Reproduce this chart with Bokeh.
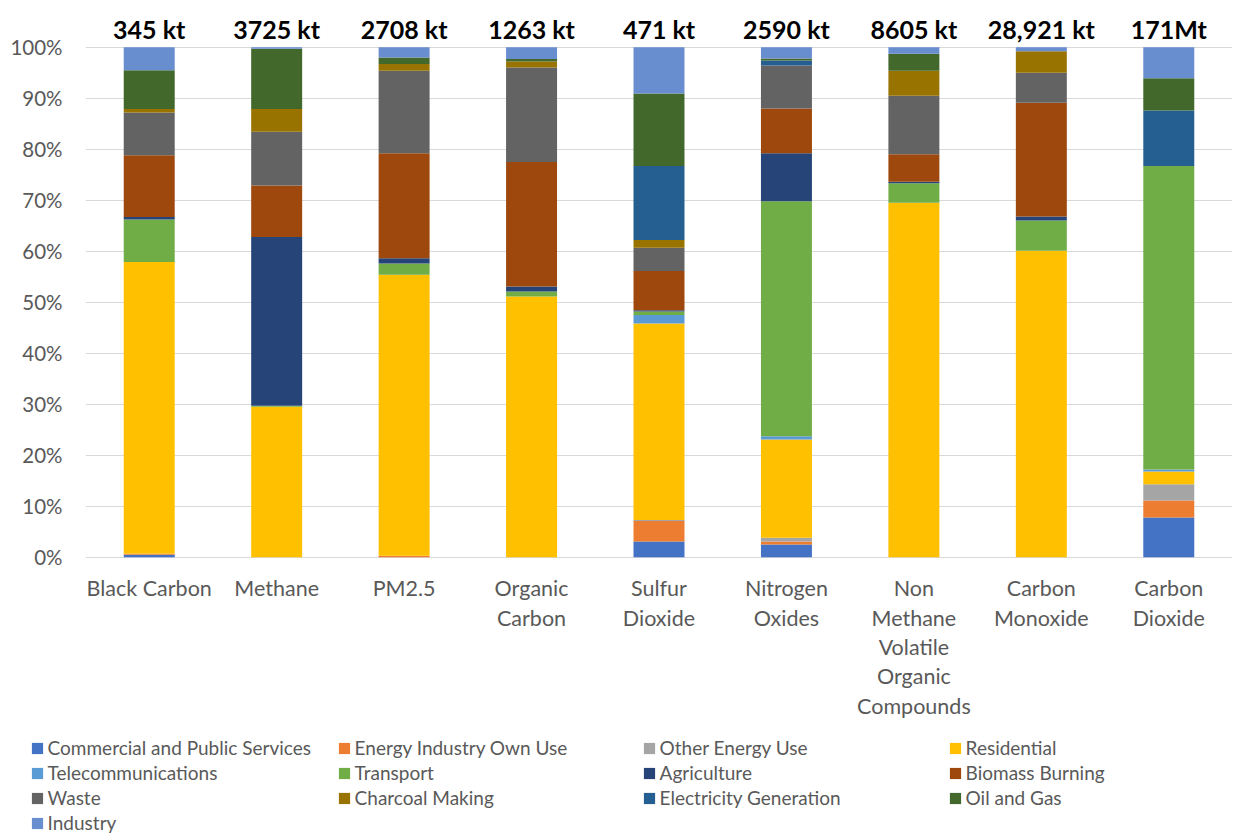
from bokeh.plotting import figure
from bokeh.layouts import column
from bokeh.models import (ColumnDataSource, FactorRange, Range1d, FixedTicker,
                          PrintfTickFormatter, Legend, LegendItem)
from bokeh.core.properties import value
from bokeh.embed import file_html
from bokeh.resources import INLINE

categories = ["Black Carbon", "Methane", "PM2.5", "Organic Carbon", "Sulfur Dioxide",
              "Nitrogen Oxides", "Non Methane Volatile Organic Compounds",
              "Carbon Monoxide", "Carbon Dioxide"]
category_labels = ["Black Carbon", "Methane", "PM2.5", "Organic\nCarbon", "Sulfur\nDioxide",
                   "Nitrogen\nOxides", "Non\nMethane\nVolatile\nOrganic\nCompounds",
                   "Carbon\nMonoxide", "Carbon\nDioxide"]
totals = ["345 kt", "3725 kt", "2708 kt", "1263 kt", "471 kt", "2590 kt", "8605 kt",
          "28,921 kt", "171Mt"]

sectors = ["Commercial and Public Services", "Energy Industry Own Use", "Other Energy Use",
           "Residential", "Telecommunications", "Transport", "Agriculture",
           "Biomass Burning", "Waste", "Charcoal Making", "Electricity Generation",
           "Oil and Gas", "Industry"]

# share of each pollutant (%) by sector, in category order
commercial     = [0.5, 0.0, 0.0, 0.0, 3.1, 2.5, 0.0, 0.0, 7.8]
energy_own_use = [0.2, 0.0, 0.3, 0.0, 4.0, 0.6, 0.0, 0.0, 3.3]
other_energy   = [0.0, 0.0, 0.0, 0.0, 0.2, 0.7, 0.0, 0.0, 3.2]
residential    = [57.2, 29.5, 55.1, 51.1, 38.5, 19.3, 69.5, 60.1, 2.5]
telecom        = [0.0, 0.0, 0.0, 0.0, 1.7, 0.6, 0.0, 0.0, 0.4]
transport      = [8.3, 0.2, 2.2, 1.0, 0.7, 46.1, 3.8, 5.9, 59.5]
agriculture    = [0.5, 33.1, 1.0, 1.0, 0.2, 9.4, 0.3, 0.8, 0.0]
biomass        = [12.1, 10.1, 20.6, 24.4, 7.7, 8.8, 5.4, 22.3, 0.0]
waste          = [8.4, 10.5, 16.2, 18.5, 4.6, 8.4, 11.5, 5.9, 0.0]
charcoal       = [0.7, 4.5, 1.3, 1.2, 1.5, 0.0, 4.9, 4.2, 0.0]
electricity    = [0.0, 0.0, 0.0, 0.0, 14.5, 1.0, 0.0, 0.0, 10.9]
oil_gas        = [7.6, 11.8, 1.3, 0.5, 14.2, 0.4, 3.3, 0.0, 6.3]
industry       = [4.5, 0.3, 2.0, 2.3, 9.1, 2.2, 1.3, 0.8, 6.1]

series = [commercial, energy_own_use, other_energy, residential, telecom, transport,
          agriculture, biomass, waste, charcoal, electricity, oil_gas, industry]
colors = ["#4472C4", "#ED7D31", "#A5A5A5", "#FFC000", "#5B9BD5", "#70AD47", "#264478",
          "#9E480E", "#636363", "#997300", "#255E91", "#43682B", "#698ED0"]

y_ticks = list(range(0, 101, 10))

data = {"cat": categories}
for name, vals in zip(sectors, series):
    data[name] = vals
source = ColumnDataSource(data)

FONT = "Lato"
GREY = "#595959"
W = 1239
H_CHART = 728
H_LEG = 105

p = figure(x_range=FactorRange(*categories), y_range=Range1d(-33.588, 109.157),
           width=W, height=H_CHART, output_backend="svg", toolbar_location=None,
           x_axis_location=None, title=None,
           min_border_left=85, min_border_right=7, min_border_top=0, min_border_bottom=0)
p.outline_line_color = None
p.background_fill_color = "white"
p.border_fill_color = "white"

renderers = p.vbar_stack(sectors, x="cat", width=0.4, color=colors, line_color=None,
                         source=source)

p.xgrid.visible = False
p.ygrid.ticker = FixedTicker(ticks=y_ticks)
p.ygrid.grid_line_color = "#D9D9D9"
p.ygrid.grid_line_width = 1.2

yax = p.yaxis[0]
yax.ticker = FixedTicker(ticks=y_ticks)
yax.formatter = PrintfTickFormatter(format="%d%%")
yax.axis_line_color = None
yax.major_tick_line_color = None
yax.minor_tick_line_color = None
yax.major_tick_out = 0
yax.major_label_standoff = 23
yax.major_label_text_font = FONT
yax.major_label_text_font_size = "20.5px"
yax.major_label_text_color = GREY

# totals above the bars
p.text(x=categories, y=[100] * len(categories), text=totals, y_offset=-18,
       text_align="center", text_baseline="middle", text_font=value(FONT),
       text_font_style="bold", text_font_size="25px", text_color="black")

# category labels below the bars
p.text(x=categories, y=[0] * len(categories), text=category_labels, y_offset=18,
       text_align="center", text_baseline="top", text_font=value(FONT),
       text_font_size="21.5px", text_color=GREY, text_line_height=1.13)

# legend strip: its own figure so that the first column can sit at the far left.
# It carries the same stacks, scrolled out of view, so the legend swatches render.
q = figure(x_range=FactorRange(*categories), y_range=Range1d(1000, 1001),
           width=W, height=H_LEG,
           output_backend="svg", toolbar_location=None, title=None,
           x_axis_location=None, y_axis_location=None,
           min_border_left=0, min_border_right=0, min_border_top=0, min_border_bottom=0)
q.outline_line_color = None
q.xgrid.visible = False
q.ygrid.visible = False
q.background_fill_color = "white"
q.border_fill_color = "white"

swatches = q.vbar_stack(sectors, x="cat", width=0.4, color=colors, line_color=None,
                        source=source)

for fig in (p, q):
    if "frame_align" in fig.properties():
        fig.frame_align = False

col_x = [29.6, 336.6, 641.6, 947.6]
row_h = 25
legend_top = 7
n_cols = 4
for c in range(n_cols):
    idx = list(range(c, len(sectors), n_cols))
    items = [LegendItem(label=sectors[i], renderers=[swatches[i]]) for i in idx]
    bottom = H_LEG - (legend_top + row_h * len(idx))
    leg = Legend(items=items, location=(col_x[c], bottom),
                 orientation="vertical", border_line_color=None,
                 background_fill_alpha=0, padding=0, margin=0, spacing=0,
                 glyph_width=14, glyph_height=14, label_height=row_h,
                 label_standoff=4, label_text_font=FONT, label_text_font_size="19px",
                 label_text_color=GREY)
    q.add_layout(leg, "center")

open("out.html", "w").write(file_html(column(p, q), INLINE))
